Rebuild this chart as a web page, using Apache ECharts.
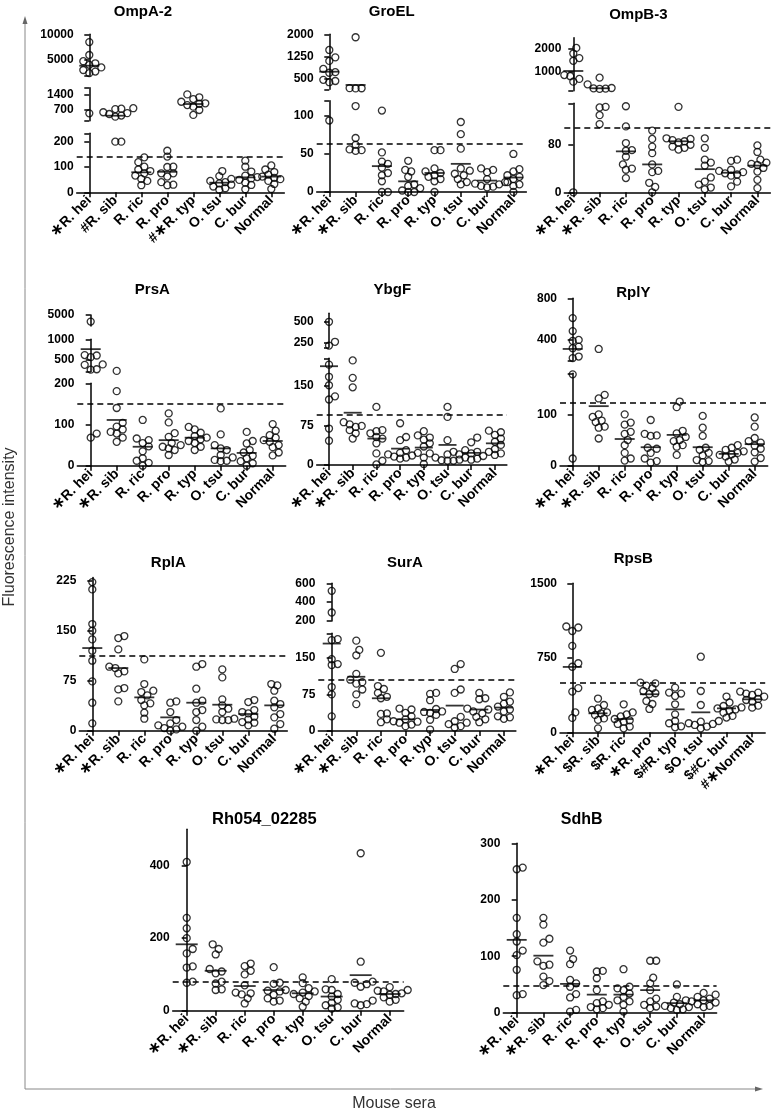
<!DOCTYPE html>
<html><head><meta charset="utf-8">
<script src="https://cdn.jsdelivr.net/npm/echarts@6/dist/echarts.min.js"></script>
<style>html,body{margin:0;padding:0;background:#fff}#c{width:777px;height:1114px}</style>
</head><body><div id="c"></div>
<script>
// ---------- DATA ----------
const groups = ['R. hei','R. sib','R. ric','R. pro','R. typ','O. tsu','C. bur','Normal'];
const stdLabels   = ['*R. hei','*R. sib','R. ric','R. pro','R. typ','O. tsu','C. bur','Normal'];
const ompA2Labels = ['*R. hei','#R. sib','R. ric','R. pro','#*R. typ','O. tsu','C. bur','Normal'];
const rpsBLabels  = ['*R. hei','$R. sib','$R. ric','*R. pro','$#R. typ','$O. tsu','$#C. bur','#*Normal'];

const ompA2 = [
 [8500,6000,4800,4400,4100,3600,3100,2800,2500,550],
 [780,760,740,600,560,520,450,400,200,200],
 [138,119,101,90,84,75,66,53,45,28],
 [164,141,101,100,75,75,62,40,30,28],
 [1400,1270,1190,1070,1000,980,920,850,700,480],
 [84,64,53,45,40,35,30,23,16,10],
 [125,101,82,66,60,55,49,38,29,12],
 [106,90,80,70,62,57,52,45,33,13]];
const ompA2Means = [3930,445,79,81,968,38,59,62];
const ompA2Ticks = [[5000,10000],[700,1400],[0,100,200]];
const ompA2Ranges = [[2000,10000],[220,1700],[0,233]];
const ompA2Cutoff = 140;

const groEL = [
 [1470,1220,1100,830,720,700,460,420,380,94],
 [1900,180,175,170,113,71,62,56,55,54],
 [107,52,40,37,32,25,22,14,0,0],
 [41,29,27,20,10,8,5,2,0,0],
 [55,55,31,27,25,22,20,17,14,0],
 [92,76,57,31,28,24,22,17,13,10],
 [31,29,26,17,13,11,10,8,7,6],
 [50,30,27,22,20,17,13,10,8,0]];
const groELMeans = [736,286,34,14,25,37,15,19];
const groELTicks = [[500,1250,2000],[0,50,100]];
const groELRanges = [[140,2000],[0,120]];
const groELCutoff = 64;

const ompB3 = [
 [2050,1800,1600,1480,850,800,680,560,0],
 [735,440,280,260,250,240,144,143,130,115],
 [145,111,83,71,70,60,47,40,38,24],
 [104,90,77,66,47,36,34,16,9,0],
 [144,91,90,88,86,84,80,77,75,72],
 [91,75,55,50,45,25,18,13,8,5],
 [55,53,38,36,34,32,30,28,18,10],
 [79,68,55,50,48,46,41,35,21,7]];
const ompB3Means = [1030,267,69,47,86,39,33,45];
const ompB3Ticks = [[1000,2000],[0,80]];
const ompB3Ranges = [[160,2500],[0,150]];
const ompB3Cutoff = 108;

const prsA = [
 [4400,610,600,560,380,370,260,250,78,68],
 [220,181,140,104,95,88,82,78,68,58],
 [111,66,62,55,47,35,18,12,7,0],
 [127,105,79,70,55,50,46,42,38,26],
 [94,88,80,72,68,64,60,55,46,38],
 [139,76,50,42,38,26,20,14,12,11],
 [82,60,54,38,32,24,18,11,6,0],
 [101,85,74,68,62,58,50,45,32,25]];
const prsAMeans = [757,111,46,62,68,42,31,60];
const prsATicks = [[4000,5000],[500,1000],[0,100,200]];
const prsARanges = [[4000,5000],[200,1000],[0,200]];
const prsACutoff = 150;

const ybgF = [
 [500,265,220,190,167,151,130,124,69,46],
 [198,165,147,81,77,74,72,66,60,50],
 [110,66,64,60,53,50,41,22,8,1],
 [79,53,47,28,23,20,18,16,14,12],
 [64,56,52,48,41,35,23,22,14,2],
 [110,91,47,25,20,14,10,9,8,8],
 [52,43,28,25,22,20,17,14,12,10],
 [65,62,57,50,44,38,30,25,22,19]];
const ybgFMeans = [187,99,50,31,33,38,23,41];
const ybgFTicks = [[250,500],[0,75,150]];
const ybgFRanges = [[200,600],[0,202]];
const ybgFCutoff = 96;

const rplY = [
 [610,485,400,390,335,320,240,225,178,14],
 [313,138,131,100,95,88,85,76,74,53],
 [100,84,80,66,62,50,40,25,14,10],
 [89,62,59,58,35,33,25,14,9,6],
 [125,114,68,63,56,50,48,40,37,21],
 [97,74,58,35,31,25,20,11,9,7],
 [40,35,31,28,25,22,21,18,12,8],
 [94,76,54,48,45,39,33,26,15,8]];
const rplYMeans = [313,116,52,36,60,36,23,42];
const rplYTicks = [[400,800],[0,100]];
const rplYRanges = [[200,800],[0,180]];
const rplYCutoff = 123;

const rplA = [
 [223,212,160,150,137,120,105,74,42,11],
 [142,139,122,96,94,89,86,64,62,44],
 [107,70,60,58,53,46,41,38,27,18],
 [44,42,28,16,11,8,6,4,2,0],
 [100,96,63,45,42,31,28,16,6,0],
 [92,80,47,38,33,28,18,17,16,16],
 [46,43,31,28,26,21,17,13,12,8],
 [70,68,60,45,40,35,25,20,10,3]];
const rplAMeans = [124,94,50,20,42,39,25,38];
const rplATicks = [[0,75,150,225]];
const rplARanges = [[0,230]];
const rplACutoff = 112;

const surA = [
 [520,290,188,186,147,137,135,90,75,30],
 [185,166,155,117,105,100,97,85,75,55],
 [160,92,86,78,70,67,36,35,24,18],
 [46,44,37,30,24,20,19,17,13,10],
 [78,76,63,45,40,39,37,33,23,3],
 [137,127,85,78,29,20,17,14,10,7],
 [78,67,65,46,44,40,36,29,24,18],
 [79,70,60,56,50,44,40,30,28,25]];
const surAMeans = [179,111,67,24,43,52,44,48];
const surATicks = [[200,400,600],[0,75,150]];
const surARanges = [[200,600],[0,200]];
const surACutoff = 104;

const rpsB = [
 [1065,1055,1020,870,695,660,445,410,200,145],
 [340,275,240,225,200,190,175,140,125,40],
 [282,200,180,160,134,120,107,84,57,40],
 [500,493,470,443,416,393,386,315,285,235],
 [450,400,390,366,282,181,114,91,60,50],
 [761,416,275,114,107,91,84,74,57,40],
 [360,300,265,250,240,230,218,198,165,148],
 [410,400,390,376,359,336,325,309,268,248]];
const rpsBMeans = [658,191,134,383,231,201,241,332];
const rpsBTicks = [[0,750,1500]];
const rpsBRanges = [[0,1500]];
const rpsBCutoff = 495;

const rh054 = [
 [410,256,227,200,170,158,122,119,80,77],
 [183,170,155,115,108,103,80,75,59,57],
 [130,123,110,100,70,50,48,45,34,20],
 [120,77,74,57,55,53,44,34,28,25],
 [92,76,62,53,50,46,40,34,25,11],
 [87,59,57,46,39,30,22,15,9,6],
 [434,135,80,77,73,66,28,20,18,15],
 [65,57,55,53,48,46,44,37,30,25]];
const rh054Means = [183,110,68,57,48,39,98,46];
const rh054Ticks = [[0,200,400]];
const rh054Ranges = [[0,500]];
const rh054Cutoff = 80;

const sdhB = [
 [257,254,168,139,126,110,102,76,33,31],
 [168,156,131,124,91,85,83,64,56,49],
 [110,95,86,58,52,46,33,27,5,2],
 [74,73,61,40,20,17,14,10,8,6],
 [77,46,43,40,34,28,22,20,14,2],
 [92,92,62,52,40,25,20,14,11,8],
 [50,28,22,18,15,12,10,8,6,5],
 [35,32,28,25,22,20,18,15,12,10]];
const sdhBMeans = [129,101,51,32,32,40,17,22];
const sdhBTicks = [[0,100,200,300]];
const sdhBRanges = [[0,300]];
const sdhBCutoff = 47;

// ---------- LAYOUT ----------
const FONT = '"Liberation Sans", Arial, Helvetica, sans-serif';
const panels = [
 {title:'OmpA-2', data:ompA2, means:ompA2Means, ticks:ompA2Ticks, ranges:ompA2Ranges, cutoff:ompA2Cutoff, labels:ompA2Labels,
  lay:{tx:143, ty:12, ts:15, axisX:76.7, first:12.6, spacing:26, endPad:13, segs:[[34.3,75.7],[87.7,120.7],[133.3,192.3]]}},
 {title:'GroEL', data:groEL, means:groELMeans, ticks:groELTicks, ranges:groELRanges, cutoff:groELCutoff, labels:stdLabels,
  lay:{tx:391.7, ty:12, ts:15, axisX:316.7, first:12.6, spacing:26.3, endPad:13, segs:[[34.3,89.3],[100.7,192]]}},
 {title:'OmpB-3', data:ompB3, means:ompB3Means, ticks:ompB3Ticks, ranges:ompB3Ranges, cutoff:ompB3Cutoff, labels:stdLabels,
  lay:{tx:638.3, ty:15, ts:15, axisX:564.3, first:9, spacing:26.3, endPad:13, segs:[[37.7,90.7],[103.3,192.3]]}},
 {title:'PrsA', data:prsA, means:prsAMeans, ticks:prsATicks, ranges:prsARanges, cutoff:prsACutoff, labels:stdLabels,
  lay:{tx:152.3, ty:290, ts:15, axisX:77.3, first:13.4, spacing:26, endPad:13, segs:[[315,326],[339.3,371.7],[383.3,465.7]]}},
 {title:'YbgF', data:ybgF, means:ybgFMeans, ticks:ybgFTicks, ranges:ybgFRanges, cutoff:ybgFCutoff, labels:stdLabels,
  lay:{tx:392.3, ty:290, ts:15, axisX:316.7, first:12.3, spacing:23.7, endPad:12, segs:[[313.3,347.3],[358.3,465]]}},
 {title:'RplY', data:rplY, means:rplYMeans, ticks:rplYTicks, ranges:rplYRanges, cutoff:rplYCutoff, labels:stdLabels,
  lay:{tx:633.3, ty:292.7, ts:15, axisX:560, first:12.7, spacing:26, endPad:13, segs:[[298.3,360.7],[373.3,465.7]]}},
 {title:'RplA', data:rplA, means:rplAMeans, ticks:rplATicks, ranges:rplARanges, cutoff:rplACutoff, labels:stdLabels,
  lay:{tx:168.3, ty:563.3, ts:15, axisX:79.3, first:13, spacing:26, endPad:13, segs:[[577.4,730.7]]}},
 {title:'SurA', data:surA, means:surAMeans, ticks:surATicks, ranges:surARanges, cutoff:surACutoff, labels:stdLabels,
  lay:{tx:405, ty:563.3, ts:15, axisX:318.3, first:13.4, spacing:24.6, endPad:12, segs:[[583.3,621],[633.3,731]]}},
 {title:'RpsB', data:rpsB, means:rpsBMeans, ticks:rpsBTicks, ranges:rpsBRanges, cutoff:rpsBCutoff, labels:rpsBLabels,
  lay:{tx:633.3, ty:559.3, ts:15, axisX:560, first:12.3, spacing:25.7, endPad:13, segs:[[583.3,732.3]]}},
 {title:'Rh054_02285', data:rh054, means:rh054Means, ticks:rh054Ticks, ranges:rh054Ranges, cutoff:rh054Cutoff, labels:stdLabels,
  lay:{tx:264.3, ty:819.3, ts:16.5, axisX:172.7, first:14, spacing:29, endPad:14, segs:[[829.3,1010.7]]}},
 {title:'SdhB', data:sdhB, means:sdhBMeans, ticks:sdhBTicks, ranges:sdhBRanges, cutoff:sdhBCutoff, labels:stdLabels,
  lay:{tx:581.7, ty:819.3, ts:16, axisX:503.3, first:13.4, spacing:26.7, endPad:13, segs:[[843.3,1012.7]]}}
];

// ---------- BUILD ----------
function swarm(ys, collide, step){
  const order = ys.map((y,i)=>i).sort((a,b)=>ys[b]-ys[a]);
  const placed = []; const off = ys.map(()=>0);
  order.forEach(i=>{
    let dx = 0;
    for (let k=0;k<16;k++){
      const c = k===0 ? 0 : (k%2 ? 1 : -1)*Math.ceil(k/2)*step;
      if (placed.every(p => Math.hypot(p.x-c, p.y-ys[i]) >= collide)) { dx = c; break; }
    }
    off[i] = dx; placed.push({x:dx, y:ys[i]});
  });
  return off;
}
function labelFmt(s){
  return s.replace(/\*/g, '{a|\u2217}');
}

const grids=[], xAxes=[], yAxes=[], series=[], graphics=[];
panels.forEach(p=>{
  const L = p.lay, n = L.segs.length;
  const width = L.first + 7*L.spacing + L.endPad;
  const xmin = -L.first/L.spacing, xmax = 7 + L.endPad/L.spacing;
  const segOf = v => {
    for (let s=n-1; s>=0; s--) { const r=p.ranges[s]; if (v>=r[0] && v<=r[1]) return s; }
    let best=0, bd=Infinity;
    p.ranges.forEach((r,s)=>{ const d=Math.min(Math.abs(v-r[0]),Math.abs(v-r[1])); if(d<bd){bd=d;best=s;} });
    return best;
  };
  const pix = (v,s) => { const [t,b]=L.segs[s], [lo,hi]=p.ranges[s]; return b-(v-lo)/(hi-lo)*(b-t); };
  const pts = [];
  p.data.forEach((vals,g)=>{
    const segs = vals.map(v=>segOf(v));
    const ys = vals.map((v,i)=>pix(v,segs[i]));
    const off = swarm(ys, 5.8, 3);
    vals.forEach((v,i)=>pts.push({g, v, s:segs[i], dx:off[i]}));
  });
  const cutSeg = segOf(p.cutoff);
  L.segs.forEach((sg,s)=>{
    const gi = grids.length;
    const isBottom = s===n-1;
    grids.push({left:L.axisX, top:sg[0], width:width, height:sg[1]-sg[0], containLabel:false, outerBoundsMode:'none'});
    xAxes.push({gridIndex:gi, type:'value', min:xmin, max:xmax, show:isBottom,
      axisLine:{show:true, onZero:false, lineStyle:{color:'#000', width:1.5}},
      axisTick:{show:true, length:5, customValues:[0,1,2,3,4,5,6,7], lineStyle:{color:'#000', width:1.5}},
      axisLabel:{show:true, customValues:[0,1,2,3,4,5,6,7], rotate:45, margin:6, color:'#000',
        fontSize:14, fontWeight:'bold', fontFamily:FONT, hideOverlap:false,
        formatter:v=>labelFmt(p.labels[Math.round(v)]),
        rich:{a:{fontSize:16, fontWeight:'bold', fontFamily:'"DejaVu Sans", sans-serif', color:'#000'}}},
      splitLine:{show:false}});
    const [lo,hi] = p.ranges[s];
    const tickVals = p.ticks[s].slice();
    if (s>0 && tickVals.indexOf(hi)<0) tickVals.push(hi);
    if (!isBottom && tickVals.indexOf(lo)<0) tickVals.push(lo);
    yAxes.push({gridIndex:gi, type:'value', min:lo, max:hi,
      axisLine:{show:true, lineStyle:{color:'#000', width:1.5}},
      axisTick:{show:true, length:5, customValues:tickVals, lineStyle:{color:'#000', width:1.5}},
      axisLabel:{show:true, customValues:p.ticks[s], margin:3, color:'#000', fontSize:12, fontWeight:'bold', fontFamily:FONT,
        hideOverlap:false, formatter:v=>String(v)},
      splitLine:{show:false}});
    const sdata = pts.filter(q=>q.s===s).map(q=>({value:[q.g,q.v], symbolOffset:[q.dx,0]}));
    const ser = {type:'scatter', xAxisIndex:gi, yAxisIndex:gi, data:sdata, symbol:'circle', symbolSize:7,
      itemStyle:{color:'rgba(0,0,0,0)', borderColor:'#000', borderWidth:1.3}, silent:true, z:2};
    if (cutSeg===s) {
      ser.markLine = {silent:true, symbol:['none','none'], label:{show:false}, animation:false,
        lineStyle:{type:[6,4], color:'#000', width:1.5}, data:[{yAxis:p.cutoff}]};
    }
    series.push(ser);
    const mdata = p.means.map((m,g)=>({m,g})).filter(o=>segOf(o.m)===s).map(o=>[o.g,o.m]);
    series.push({type:'scatter', xAxisIndex:gi, yAxisIndex:gi, data:mdata, symbol:'rect',
      symbolSize:[Math.round(L.spacing*0.75),1.8], itemStyle:{color:'#000'}, silent:true, z:3});
  });
  graphics.push({type:'text', x:L.tx, y:L.ty, style:{text:p.title, fill:'#000', font:'bold '+L.ts+'px '+FONT,
    textAlign:'center', textVerticalAlign:'middle', align:'center', verticalAlign:'middle'}});
});

// outer axes with arrows
const AX = 25, AY = 1089;
graphics.push({type:'line', shape:{x1:AX, y1:AY, x2:AX, y2:22}, style:{stroke:'#888', lineWidth:1}});
graphics.push({type:'polygon', shape:{points:[[AX,16],[AX-2.5,24],[AX+2.5,24]]}, style:{fill:'#666'}});
graphics.push({type:'line', shape:{x1:AX, y1:AY, x2:756, y2:AY}, style:{stroke:'#888', lineWidth:1}});
graphics.push({type:'polygon', shape:{points:[[763,AY],[755,AY-2.5],[755,AY+2.5]]}, style:{fill:'#666'}});
graphics.push({type:'text', x:10, y:527, rotation:Math.PI/2, style:{text:'Fluorescence intensity', fill:'#333',
  font:'16px '+FONT, textAlign:'center', textVerticalAlign:'middle', align:'center', verticalAlign:'middle'}});
graphics.push({type:'text', x:394, y:1104, style:{text:'Mouse sera', fill:'#333',
  font:'16px '+FONT, textAlign:'center', textVerticalAlign:'middle', align:'center', verticalAlign:'middle'}});

const chart = echarts.init(document.getElementById('c'), null, {renderer:'canvas', width:777, height:1114});
chart.setOption({animation:false, backgroundColor:'#fff', grid:grids, xAxis:xAxes, yAxis:yAxes, series:series, graphic:graphics});
</script></body></html>
